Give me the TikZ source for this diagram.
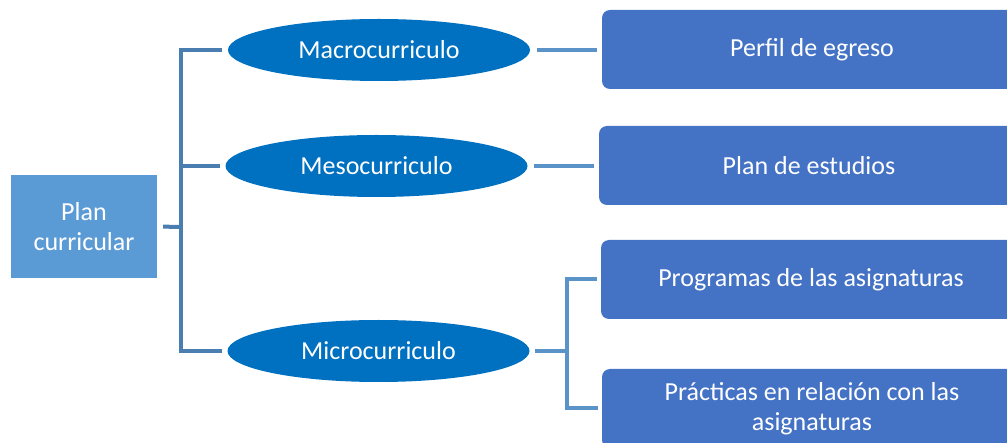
\documentclass[tikz,border=0pt]{standalone}
\usepackage{fontspec}
\setmainfont{Carlito}
\usepackage{xcolor}
\usetikzlibrary{shapes.geometric}
\definecolor{planblue}{HTML}{5B9BD5}
\definecolor{ovalblue}{HTML}{0070C0}
\definecolor{boxblue}{HTML}{4472C4}
\definecolor{linkdark}{HTML}{4A7DB0}
\definecolor{linklight}{HTML}{5A93C8}

\begin{document}
\begin{tikzpicture}[x=1pt, y=-1pt,
    every node/.style={text=white, font=\fontsize{26}{29.5}\selectfont, inner sep=0pt},
    planbox/.style={rectangle, fill=planblue, minimum width=146pt, minimum height=103pt, align=center},
    level/.style={ellipse, fill=ovalblue, minimum width=302pt, minimum height=62pt},
    item/.style={rectangle, rounded corners=8pt, fill=boxblue, minimum width=420pt, minimum height=79pt, align=center},
    link/.style={line width=4pt, linkdark},
    sublink/.style={line width=4pt, linklight}]
    \useasboundingbox (0, 0) rectangle (1007, 443);
    \clip (0, 0) rectangle (1007, 443);
    \node [planbox] (plan) at (84, 226.5) {Plan\\curricular};
    \node [level] (macro) at (379, 50) {Macrocurriculo};
    \node [level] (meso) at (376.5, 166) {Mesocurriculo};
    \node [level] (micro) at (378.5, 351) {Microcurriculo};
    \node [item] (perfil) at (812, 49.5) {Perfil de egreso};
    \node [item] (estudios) at (809, 165.5) {Plan de estudios};
    \node [item] (programas) at (811, 279.5) {Programas de las asignaturas};
    \node [item] (practicas) at (812, 408.5) {Prácticas en relación con las\\asignaturas};
    \coordinate (hub) at (181, 227);
    \coordinate (subhub) at (567, 351);
    \draw [link, shorten <=6pt] (plan.east) -- (hub);
    \draw [link, shorten >=6pt] (hub) |- (macro.west);
    \draw [link, shorten >=5pt] (hub) |- (meso.west);
    \draw [link, shorten >=5pt] (hub) |- (micro.west);
    \draw [sublink, shorten <=7pt, shorten >=5pt] (macro.east) -- (perfil.west |- macro.east);
    \draw [sublink, shorten <=6pt, shorten >=5pt] (meso.east) -- (estudios.west |- meso.east);
    \draw [sublink, shorten <=5pt] (micro.east) -- (subhub);
    \draw [sublink, shorten >=4pt] (subhub) |- (programas.west);
    \draw [sublink, shorten >=4pt] (subhub) |- (practicas.west);
\end{tikzpicture}
\end{document}
